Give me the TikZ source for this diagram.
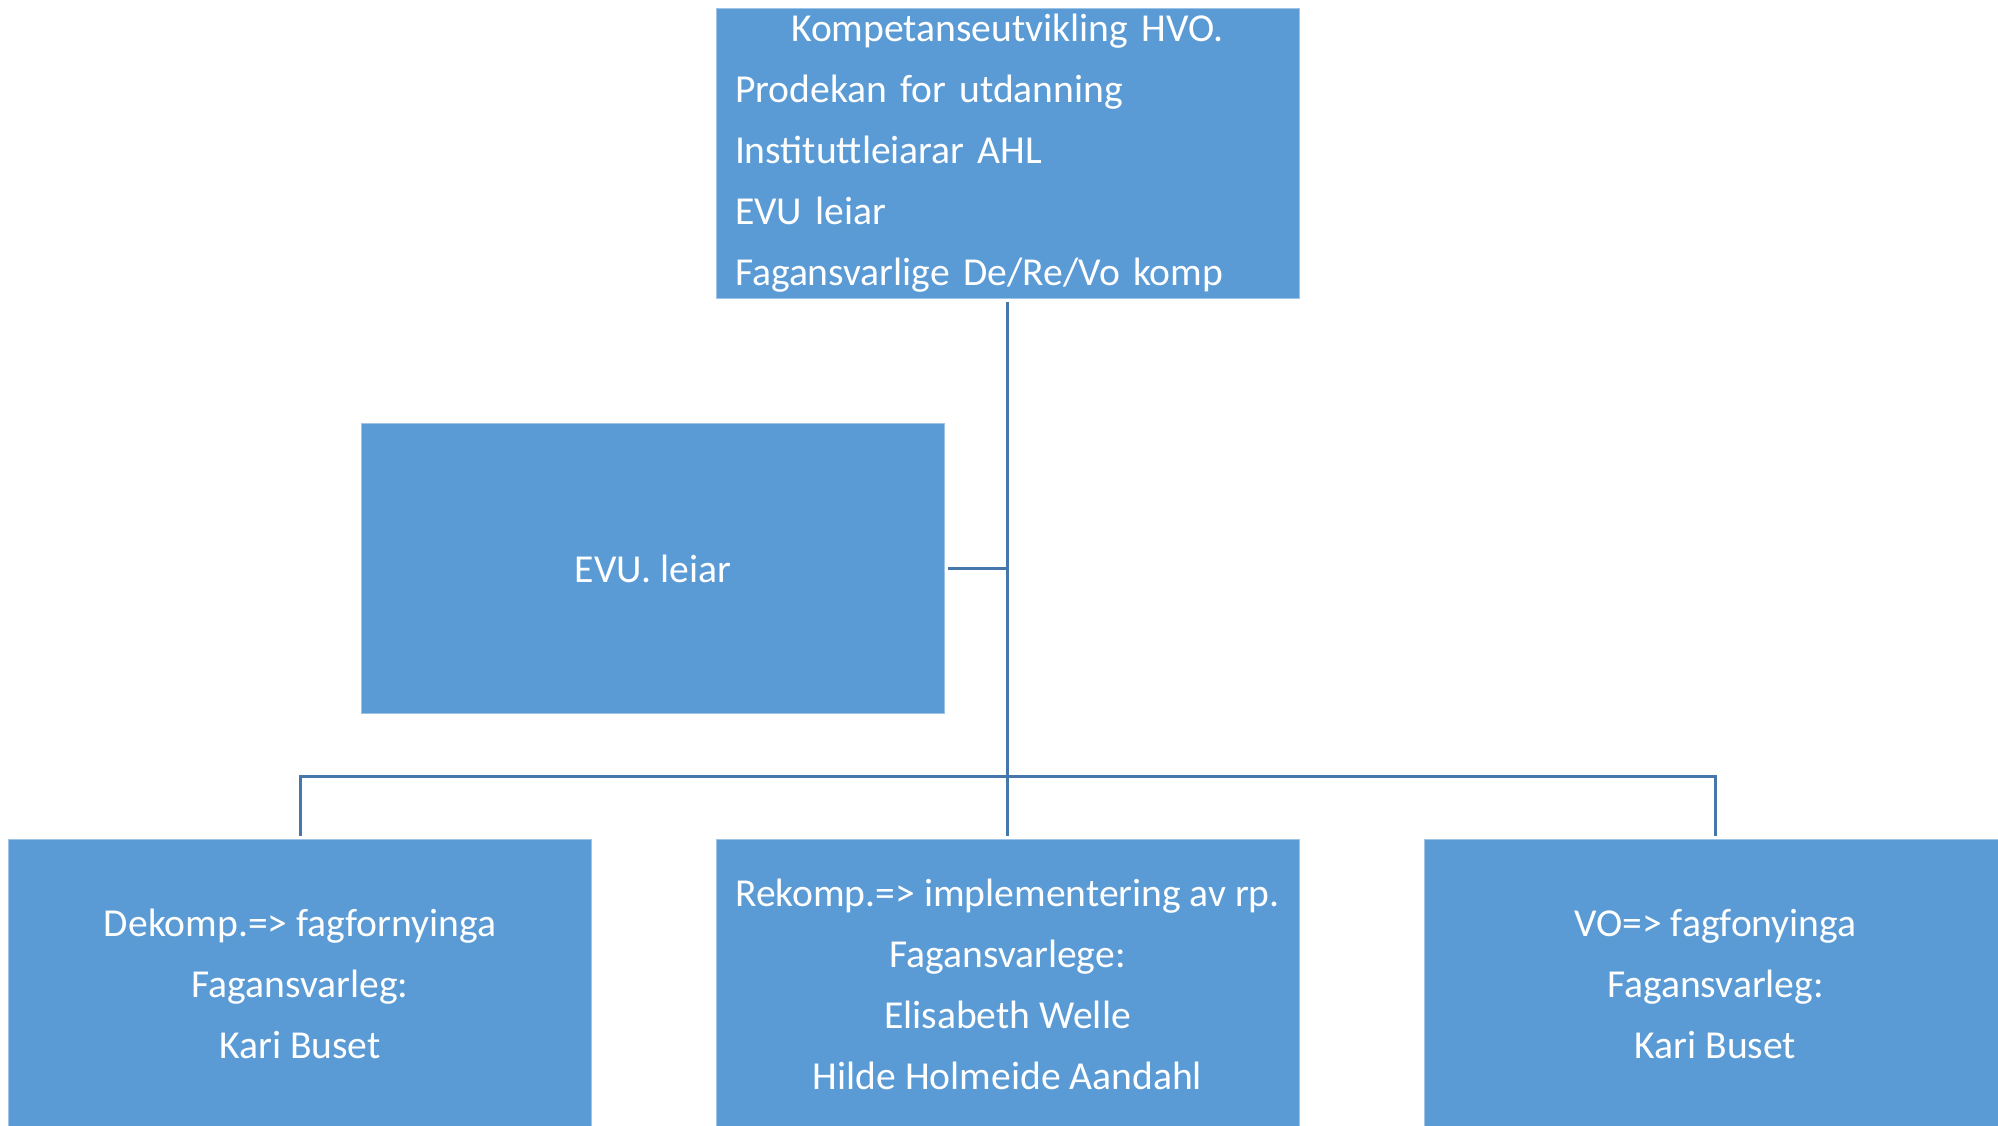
\documentclass[tikz,border=0pt]{standalone}
\usepackage{fontspec}
\setmainfont{Carlito}
\definecolor{boxfill}{HTML}{5B9BD5}
\definecolor{boxedge}{HTML}{9DC3E6}
\definecolor{linecol}{HTML}{4677AA}
\begin{document}
\begin{tikzpicture}[x=0.75pt,y=-0.75pt,
  orgbox/.style={rectangle, fill=boxfill, draw=boxedge, line width=0.6pt,
    minimum width=437.25pt, minimum height=217.5pt, inner sep=0pt,
    text=white, font=\fontsize{29.7pt}{45.75pt}\selectfont, align=center},
  conn/.style={draw=linecol, line width=2.25pt}]
\path[use as bounding box, clip] (0,0) rectangle (1998,1125);
\fill[white] (0,0) rectangle (1998,1125);

\node[orgbox, text width=408.75pt, align=left] (top) at (1007.5,153)
  {\makebox[\linewidth][c]{Kompetanseutvikling HVO.}\\
   Prodekan for utdanning\\
   Instituttleiarar AHL\\
   EVU leiar\\
   Fagansvarlige De/Re/Vo komp};

\node[orgbox] (evu) at (653,568.5) {EVU. leiar};

\node[orgbox] (left) at (300,984)
  {Dekomp.=> fagfornyinga\\Fagansvarleg:\\Kari Buset};
\node[orgbox] (mid) at (1007.5,984)
  {Rekomp.=> implementering av rp.\\Fagansvarlege:\\Elisabeth Welle\\Hilde Holmeide Aandahl};
\node[orgbox] (right) at (1715.5,984)
  {VO=> fagfonyinga\\Fagansvarleg:\\Kari Buset};

\coordinate (bus) at (1007.5,776);

\draw[conn, shorten <=3pt, shorten >=2pt] (top.south) -- (mid.north);
\draw[conn, shorten <=2pt] (evu.east) -- (evu.east -| top.south);
\draw[conn, shorten <=2pt, shorten >=2pt] (left.north) -- (left.north |- bus) -- (right.north |- bus) -- (right.north);
\end{tikzpicture}
\end{document}
